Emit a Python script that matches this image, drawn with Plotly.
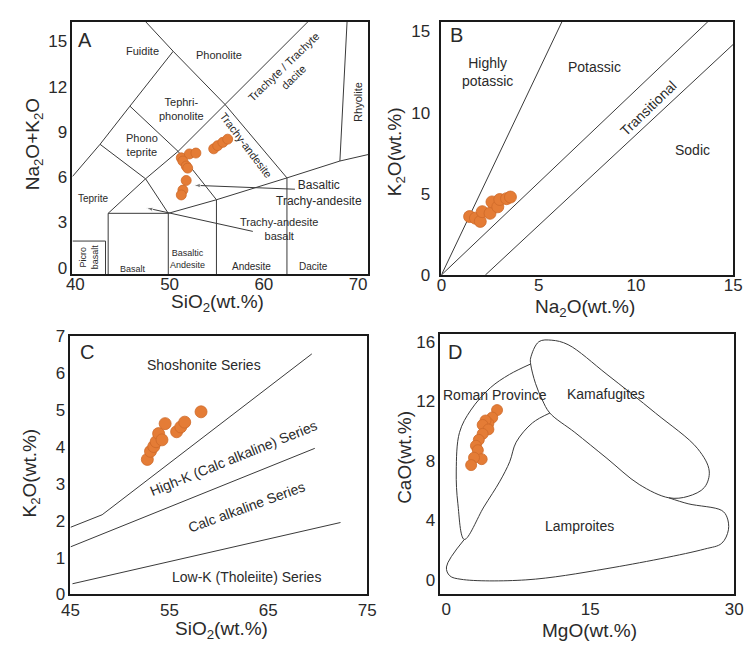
import plotly.graph_objects as go

# ---------------- data ----------------
# Panel A: TAS diagram samples
A_sio2 = [51.24, 52.10, 52.79, 51.41, 51.76, 51.92, 51.76, 51.41, 51.24, 54.68, 55.10, 55.65, 56.16]
A_alk = [7.28, 7.54, 7.60, 7.07, 6.74, 6.60, 5.78, 5.14, 4.82, 7.88, 8.09, 8.31, 8.52]

# Panel B: K2O vs Na2O
B_na2o = [1.45, 1.75, 2.0, 2.1, 2.5, 2.6, 2.9, 3.0, 3.35, 3.55]
B_k2o = [3.6, 3.5, 3.3, 3.9, 3.8, 4.5, 4.2, 4.65, 4.7, 4.8]

# Panel C: K2O vs SiO2
C_sio2 = [52.77, 53.09, 53.42, 53.66, 53.91, 54.57, 54.25, 55.73, 56.15, 56.55, 58.2]
C_k2o = [3.66, 3.88, 4.01, 4.14, 4.36, 4.63, 4.19, 4.41, 4.54, 4.67, 4.95]

# Panel D: CaO vs MgO
D_mgo = [5.3, 4.8, 4.4, 4.1, 3.8, 4.4, 3.8, 3.4, 3.1, 3.3, 3.7, 2.9, 2.6]
D_cao = [11.4, 10.9, 10.5, 10.7, 10.4, 10.1, 9.8, 9.4, 9.0, 8.7, 8.1, 8.2, 7.7]

# Panel A boundary lines (SiO2, Na2O+K2O)
A_lines = [
    ([39.69, 42.62, 45.79, 50.38], [6.04, 8.18, 10.71, 14.35]),
    ([47.45, 50.38, 55.9, 62.45], [16.32, 14.35, 10.81, 5.95]),
    ([42.62, 47.45, 49.86], [8.18, 5.89, 3.60]),
    ([45.79, 50.9, 54.97, 54.97], [10.71, 7.71, 4.5, -0.43]),
    ([43.48, 47.45, 50.9, 55.9, 64.69], [3.60, 5.89, 7.71, 10.81, 16.32]),
    ([49.86, 54.97, 62.45, 68.07, 71.07], [3.60, 4.5, 5.95, 7.07, 7.5]),
    ([68.83, 68.07], [16.32, 7.07]),
    ([43.48, 49.86], [3.60, 3.60]),
    ([43.48, 43.48], [3.60, -0.43]),
    ([43.2, 43.2], [1.76, -0.43]),
    ([39.69, 43.2], [1.76, 1.76]),
    ([49.86, 49.86], [3.60, -0.43]),
    ([62.45, 62.45], [5.95, -0.43]),
]
# Panel A pointer arrows: (tail, tip)
A_arrows = [
    ([63.3, 52.55], [5.2, 5.46]),
    ([58.83, 47.52], [2.40, 3.96]),
]

# Panel B boundary lines (Na2O, K2O)
B_lines = [
    ([0, 6.2], [0, 15.6]),
    ([0, 13.7], [0, 15.6]),
    ([2.26, 15.0], [0, 14.2]),
]

# Panel C boundary lines (SiO2, K2O)
C_lines = [
    ([45.0, 48.2, 69.4], [1.82, 2.16, 6.52]),
    ([45.0, 69.7], [1.29, 3.96]),
    ([45.2, 72.3], [0.29, 1.95]),
]

# Panel D field outlines (MgO, CaO)
D_roman = ([10.8, 8.99, 7.29, 6.62, 5.6, 3.92, 1.89, 1.22, 1.05, 1.39, 2.57, 4.6, 6.6, 8.8],
           [11.2, 10.54, 9.24, 7.93, 6.62, 4.88, 2.7, 5.1, 7.3, 9.9, 11.4, 12.9, 13.8, 14.5])
D_kama = ([8.8, 9.3, 10.0, 10.8, 13.4, 16.75, 20.1, 23.2, 25.2, 26.9, 27.4, 26.2, 21.8, 16.75, 12.7, 11.0, 9.66, 8.8, 8.8],
          [14.5, 13.2, 12.1, 11.2, 9.9, 8.15, 6.4, 5.5, 5.6, 6.2, 7.3, 8.8, 11.2, 13.8, 15.8, 16.1, 16.0, 14.9, 14.5])
D_lamp = ([1.89, 0.03, 0.37, 1.55, 8.3, 16.75, 26.9, 28.7, 29.4, 29.25, 28.7, 25.2, 23.2],
          [2.7, 0.85, 0.26, 0.02, -0.02, 0.74, 2.05, 2.44, 3.35, 4.2, 4.65, 5.1, 5.5])

# ---------------- styles ----------------
W, H = 751, 653
FONT = "Liberation Sans, Arial, sans-serif"
LINE_C = "#3a3a3a"
TXT_C = "#2a2a2a"
ORANGE = "rgb(228,124,54)"
ORANGE_EDGE = "rgb(206,106,42)"

fig = go.Figure()

def add_lines(lines, xa, ya, width=1.0, shape="linear"):
    for xs, ys in lines:
        fig.add_trace(go.Scatter(x=xs, y=ys, mode="lines", xaxis=xa, yaxis=ya,
                                 line=dict(color=LINE_C, width=width, shape=shape),
                                 hoverinfo="skip", showlegend=False))

def add_pts(xs, ys, xa, ya, size):
    fig.add_trace(go.Scatter(x=xs, y=ys, mode="markers", xaxis=xa, yaxis=ya,
                             marker=dict(color=ORANGE, size=size,
                                         line=dict(color=ORANGE_EDGE, width=0.8)),
                             showlegend=False))

add_lines(A_lines, "x", "y", 1.0)
for xs, ys in A_arrows:
    fig.add_trace(go.Scatter(x=xs, y=ys, mode="lines+markers", xaxis="x", yaxis="y",
                             line=dict(color=LINE_C, width=1.0),
                             marker=dict(symbol="arrow", angleref="previous", size=[0, 7],
                                         color=LINE_C),
                             hoverinfo="skip", showlegend=False))
add_pts(A_sio2, A_alk, "x", "y", 10)

add_lines(B_lines, "x2", "y2", 1.0)
add_pts(B_na2o, B_k2o, "x2", "y2", 12)

add_lines(C_lines, "x3", "y3", 1.0)
add_pts(C_sio2, C_k2o, "x3", "y3", 12)

add_lines([D_roman, D_kama, D_lamp], "x4", "y4", 1.0, shape="spline")
add_pts(D_mgo, D_cao, "x4", "y4", 11)

def px_dom_x(a, b):
    return [a / W, b / W]

def px_dom_y(top, bottom):
    return [1 - bottom / H, 1 - top / H]

def ax(**kw):
    d = dict(showline=True, mirror=True, linecolor="#1a1a1a", linewidth=1.5,
             showgrid=False, zeroline=False, ticks="",
             tickfont=dict(family=FONT, size=17, color=TXT_C))
    d.update(kw)
    return d

layout = dict(
    width=W, height=H, margin=dict(l=0, r=0, t=0, b=0),
    paper_bgcolor="white", plot_bgcolor="white", showlegend=False,
    font=dict(family=FONT, color=TXT_C),
    xaxis=ax(domain=px_dom_x(65, 368), range=[39.69, 71.07], tickvals=[40, 50, 60, 70], anchor="y",
             ticklabelstandoff=-6),
    yaxis=ax(domain=px_dom_y(13, 273), range=[-0.43, 16.32], tickvals=[0, 3, 6, 9, 12, 15], anchor="x"),
    xaxis2=ax(domain=px_dom_x(443, 742), range=[0, 15], tickvals=[0, 5, 10, 15], anchor="y2",
              ticklabelstandoff=-6),
    yaxis2=ax(domain=px_dom_y(13, 274), range=[0, 15.6], tickvals=[0, 5, 10, 15], anchor="x2",
              ticklabelstandoff=6),
    xaxis3=ax(domain=px_dom_x(63, 367), range=[45, 75], tickvals=[45, 55, 65, 75], anchor="y3",
              ticklabelstandoff=-1),
    yaxis3=ax(domain=px_dom_y(337, 603), range=[0, 7.0], tickvals=list(range(8)), anchor="x3"),
    xaxis4=ax(domain=px_dom_x(442, 743), range=[-0.6, 30], tickvals=[0, 15, 30], anchor="y4",
              ticklabelstandoff=-2),
    yaxis4=ax(domain=px_dom_y(335, 603), range=[-1, 16.5], tickvals=[0, 4, 8, 12, 16], anchor="x4"),
)
fig.update_layout(**layout)

ann = []

def txt(x, y, s, xr, yr, size, angle=0, color=TXT_C):
    ann.append(dict(x=x, y=y, xref=xr, yref=yr, text=s, showarrow=False, textangle=angle,
                    xanchor="center", yanchor="middle",
                    font=dict(family=FONT, size=size, color=color), align="center"))

# Panel A labels
txt(40.97, 15.1, "A", "x", "y", 20)
txt(47.1, 14.35, "Fuidite", "x", "y", 11)
txt(55.2, 14.13, "Phonolite", "x", "y", 11)
txt(62.62, 12.95, "Trachyte / Trachyte<br>dacite", "x", "y", 11, -44)
txt(51.24, 10.49, "Tephri-<br>phonolite", "x", "y", 11)
txt(47.03, 8.14, "Phono<br>teprite", "x", "y", 11)
txt(58.1, 8.14, "Trachy-andesite", "x", "y", 11, 53)
txt(70.0, 11.0, "Rhyolite", "x", "y", 11, -90)
txt(41.83, 4.6, "Teprite", "x", "y", 10)
txt(65.9, 4.93, "Basaltic<br>Trachy-andesite", "x", "y", 12)
txt(61.6, 2.57, "Trachy-andesite<br>basalt", "x", "y", 11)
txt(41.4, 0.72, "Picro<br>basalt", "x", "y", 9, -90)
txt(46.07, -0.1, "Basalt", "x", "y", 9)
txt(51.93, 0.54, "Basaltic<br>Andesite", "x", "y", 9)
txt(58.66, 0.1, "Andesite", "x", "y", 10)
txt(65.3, 0.1, "Dacite", "x", "y", 10)

# Panel B labels
txt(0.78, 14.8, "B", "x2", "y2", 20)
txt(2.35, 12.5, "Highly<br>potassic", "x2", "y2", 14)
txt(7.87, 12.8, "Potassic", "x2", "y2", 14)
txt(10.64, 10.3, "Transitional", "x2", "y2", 14, -44)
txt(12.9, 7.7, "Sodic", "x2", "y2", 14)

# Panel C labels
txt(46.7, 6.56, "C", "x3", "y3", 20)
txt(58.45, 6.21, "Shoshonite Series", "x3", "y3", 14)
txt(61.5, 3.70, "High-K (Calc alkaline) Series", "x3", "y3", 14, -22)
txt(62.8, 2.38, "Calc alkaline Series", "x3", "y3", 14, -20)
txt(62.8, 0.47, "Low-K (Tholeiite) Series", "x3", "y3", 14)

# Panel D labels
txt(0.9, 15.3, "D", "x4", "y4", 20)
txt(5.1, 12.4, "Roman Province", "x4", "y4", 14)
txt(16.7, 12.46, "Kamafugites", "x4", "y4", 14)
txt(13.9, 3.6, "Lamproites", "x4", "y4", 14)

# Axis titles (paper coordinates)
def title(xp, yp, s, angle=0):
    ann.append(dict(x=xp / W, y=1 - yp / H, xref="paper", yref="paper", text=s, showarrow=False,
                    xanchor="center", yanchor="middle", textangle=angle,
                    font=dict(family=FONT, size=19, color=TXT_C)))

title(214, 303, "SiO<sub>2</sub>(wt.%)")
title(26, 139, "Na<sub>2</sub>O+K<sub>2</sub>O", -90)
title(590, 308, "Na<sub>2</sub>O(wt.%)")
title(396, 147, "K<sub>2</sub>O(wt.%)", -90)
title(218, 640, "SiO<sub>2</sub>(wt.%)")
title(23, 478, "K<sub>2</sub>O(wt.%)", -90)
title(595, 640, "MgO(wt.%)")
title(405, 462, "CaO(wt.%)", -90)

fig.update_layout(annotations=ann)
fig.write_html("out.html")
